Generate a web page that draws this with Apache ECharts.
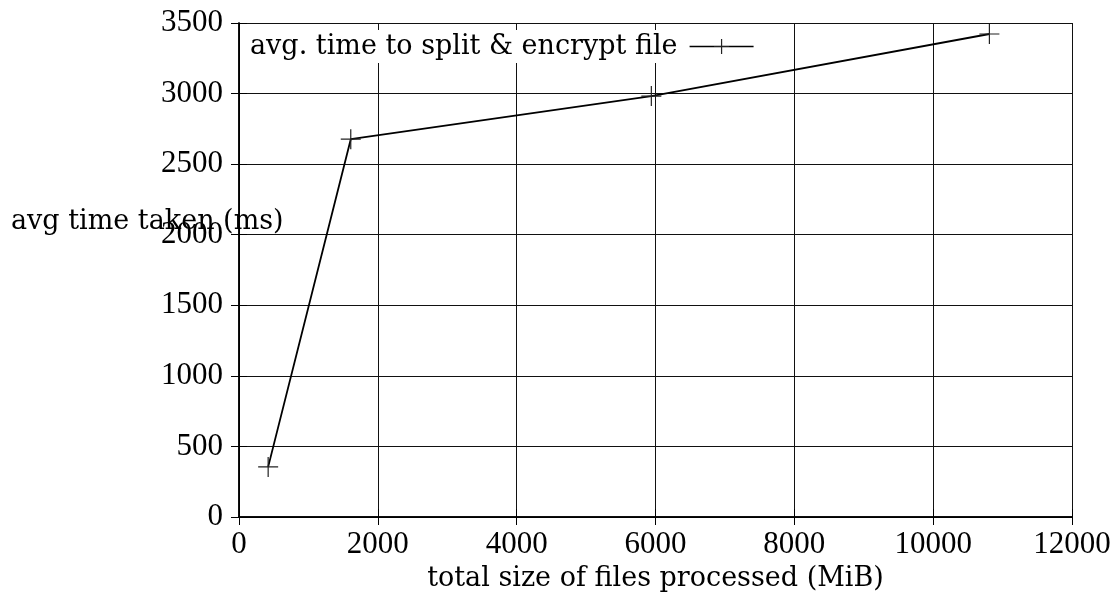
<!DOCTYPE html>
<html>
<head>
<meta charset="utf-8">
<script src="https://cdn.jsdelivr.net/npm/echarts@6/dist/echarts.min.js"></script>
<style>html,body{margin:0;padding:0;background:#fff}#c{width:1118px;height:603px}</style>
</head>
<body>
<div id="c"></div>
<script>
const sizesMiB = [420, 1610, 5940, 10810];
const avgTimeMs = [355, 2677, 2982, 3422];
const seriesName = 'avg. time to split & encrypt file';
const xTitle = 'total size of files processed (MiB)';
const yTitle = 'avg time taken (ms)';

const TEXT_FONT = 'DejaVu Serif';
const NUM_FONT = 'Liberation Serif';
const crossPath = 'path://M0,10L20,10M10,0L10,20';
const plain = v => String(v);

const chart = echarts.init(document.getElementById('c'), null, {renderer: 'canvas'});
const lineCol = '#111';
chart.setOption({
  animation: false,
  backgroundColor: '#fff',
  grid: {left: 239, right: 46, top: 23, bottom: 86},
  legend: {
    show: true,
    left: 244, top: 30,
    padding: [3, 6, 3, 6],
    backgroundColor: '#fff',
    align: 'right',
    itemWidth: 64, itemHeight: 19,
    z: 5,
    textStyle: {fontFamily: TEXT_FONT, fontSize: 27, color: '#000', padding: [0, 7, 0, 0]},
    itemStyle: {color: '#000', borderColor: '#222', borderWidth: 1.2},
    lineStyle: {color: '#000', width: 1.5},
    data: [seriesName]
  },
  xAxis: [{
    type: 'value', min: 0, max: 12000, interval: 2000, position: 'bottom',
    name: xTitle, nameLocation: 'middle', nameGap: 48,
    nameTextStyle: {fontFamily: TEXT_FONT, fontSize: 27, color: '#000'},
    axisLine: {show: true, lineStyle: {color: '#000', width: 1.5}},
    axisTick: {show: true, inside: true, length: 8, lineStyle: {color: '#000', width: 1}},
    splitLine: {show: true, lineStyle: {color: lineCol, width: 1, type: 'solid'}},
    axisLabel: {fontFamily: NUM_FONT, fontSize: 31, color: '#000', margin: 12, formatter: plain}
  }, {
    type: 'value', min: 0, max: 12000, interval: 2000, position: 'top', z: 10,
    axisLine: {show: true, lineStyle: {color: '#000', width: 1.5}},
    axisTick: {show: true, inside: true, length: 8, lineStyle: {color: '#000', width: 1}},
    splitLine: {show: false},
    axisLabel: {show: false}
  }],
  yAxis: [{
    type: 'value', min: 0, max: 3500, interval: 500, position: 'left',
    axisLine: {show: true, lineStyle: {color: '#000', width: 1.5}},
    axisTick: {show: true, inside: true, length: 8, lineStyle: {color: '#000', width: 1}},
    splitLine: {show: true, lineStyle: {color: lineCol, width: 1, type: 'solid'}},
    axisLabel: {fontFamily: NUM_FONT, fontSize: 31, color: '#000', margin: 16, formatter: plain}
  }, {
    type: 'value', min: 0, max: 3500, interval: 500, position: 'right', z: 10,
    axisLine: {show: true, lineStyle: {color: '#000', width: 1.5}},
    axisTick: {show: true, inside: true, length: 8, lineStyle: {color: '#000', width: 1}},
    splitLine: {show: false},
    axisLabel: {show: false}
  }],
  graphic: [{
    type: 'text', left: 11, top: 208, z: 20,
    style: {text: yTitle, fontFamily: TEXT_FONT, fontSize: 27, fill: '#000'}
  }],
  series: [{
    name: seriesName,
    type: 'line',
    xAxisIndex: 0, yAxisIndex: 0,
    data: sizesMiB.map((x, i) => [x, avgTimeMs[i]]),
    symbol: crossPath,
    symbolSize: 20,
    showSymbol: true,
    itemStyle: {color: '#000', borderColor: '#222', borderWidth: 1.2},
    lineStyle: {color: '#000', width: 1.8},
    emphasis: {disabled: true},
    z: 3
  }]
});
</script>
</body>
</html>
